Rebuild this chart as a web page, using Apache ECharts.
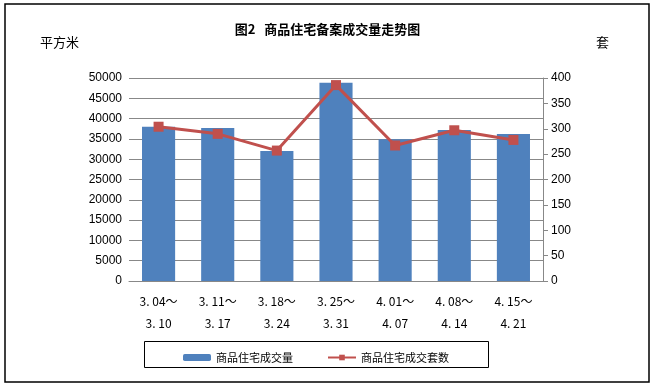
<!DOCTYPE html>
<html><head><meta charset="utf-8">
<script src="https://cdn.jsdelivr.net/npm/echarts@6/dist/echarts.min.js"></script>
<style>html,body{margin:0;padding:0;background:#fff}#c{width:655px;height:388px}</style>
</head><body><div id="c"></div>
<script>
var categories = ['3. 04～\n3. 10','3. 11～\n3. 17','3. 18～\n3. 24','3. 25～\n3. 31','4. 01～\n4. 07','4. 08～\n4. 14','4. 15～\n4. 21'];
var areaValues = [38000, 37700, 32000, 48800, 34900, 37200, 36200];
var unitValues = [304, 290, 257, 386, 267, 297, 278];
var leftTicks = [0, 50000, 5000];
var rightTicks = [0, 400, 50];
var seriesNames = ['商品住宅成交量', '商品住宅成交套数'];
var titleText = '图2   商品住宅备案成交量走势图';

var chart = echarts.init(document.getElementById('c'));
var font = 'Liberation Sans, Arial, sans-serif';
chart.setOption({
  animation: false,
  backgroundColor: '#fff',
  textStyle: {fontFamily: font},
  title: {text: titleText, left: 'center', top: 18, textStyle: {fontSize: 13, fontWeight: 'bold', color: '#000', fontFamily: 'Noto Sans CJK SC'}},
  graphic: [
    {type: 'rect', shape: {x: 5, y: 4, width: 644, height: 378}, style: {fill: 'none', stroke: '#000', lineWidth: 1.5}},
    {type: 'rect', shape: {x: 144.5, y: 341.5, width: 344, height: 26}, style: {fill: 'none', stroke: '#000', lineWidth: 1}},
    {type: 'text', left: 40, top: 36, style: {text: '平方米', fontSize: 13, fill: '#000', fontFamily: 'Noto Sans CJK SC'}},
    {type: 'text', left: 596, top: 36, style: {text: '套', fontSize: 13, fill: '#000', fontFamily: 'Noto Sans CJK SC'}}
  ],
  legend: {
    data: [seriesNames[0], seriesNames[1]],
    left: 178, top: 347, itemGap: 34, itemWidth: 28, itemHeight: 7,
    textStyle: {fontSize: 11, color: '#000', fontFamily: 'Noto Sans CJK SC'}
  },
  grid: {left: 129, right: 112, top: 78, bottom: 107},
  xAxis: {
    type: 'category', data: categories,
    axisLine: {lineStyle: {color: '#888'}},
    axisTick: {show: false},
    axisLabel: {color: '#000', fontSize: 12, lineHeight: 22, margin: 9, fontFamily: 'Noto Sans CJK SC'}
  },
  yAxis: [
    {type: 'value', min: leftTicks[0], max: leftTicks[1], interval: leftTicks[2],
     axisLine: {show: false}, axisTick: {show: false},
     splitLine: {lineStyle: {color: '#888'}},
     axisLabel: {color: '#000', fontSize: 12, margin: 7, formatter: function (v) { return String(v); }}},
    {type: 'value', min: rightTicks[0], max: rightTicks[1], interval: rightTicks[2],
     axisLine: {show: true, lineStyle: {color: '#888'}},
     axisTick: {show: true, length: 5, lineStyle: {color: '#888'}},
     splitLine: {show: false},
     axisLabel: {color: '#000', fontSize: 12, margin: 8, formatter: function (v) { return String(v); }}}
  ],
  series: [
    {name: seriesNames[0], type: 'bar', data: areaValues, barWidth: '56%', itemStyle: {color: '#4F81BD'}},
    {name: seriesNames[1], type: 'line', yAxisIndex: 1, data: unitValues, symbol: 'rect', symbolSize: 10,
     lineStyle: {color: '#C0504D', width: 3}, itemStyle: {color: '#C0504D'}}
  ]
});
</script></body></html>
